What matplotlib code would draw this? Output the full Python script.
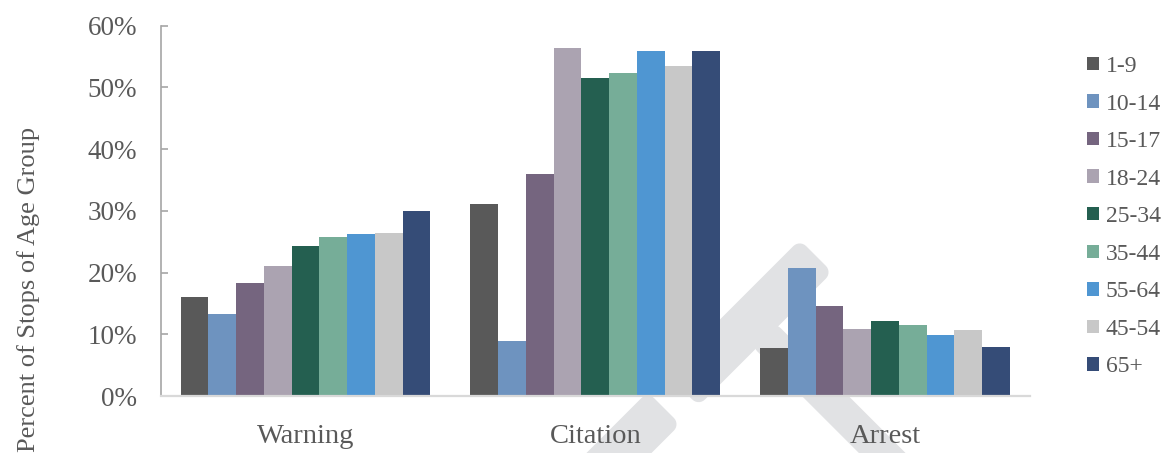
import numpy as np
import matplotlib
matplotlib.use("Agg")
import matplotlib.pyplot as plt
from matplotlib.patches import Polygon
from matplotlib.ticker import PercentFormatter

# --- Datos (porcentaje de paradas por grupo de edad) ---
categorias = ['Warning', 'Citation', 'Arrest']
grupos_edad = ['1-9', '10-14', '15-17', '18-24', '25-34', '35-44', '55-64', '45-54', '65+']
warning = [16.0, 13.3, 18.3, 21.1, 24.3, 25.8, 26.3, 26.4, 30.0]
citation = [31.1, 8.9, 36.0, 56.4, 51.5, 52.3, 55.9, 53.5, 55.9]
arrest = [7.8, 20.7, 14.6, 10.9, 12.2, 11.5, 9.9, 10.7, 7.9]
colores = ['#595959', '#6e93bf', '#75657f', '#aba3b1', '#245f50',
           '#76ad98', '#4f96d2', '#c8c8c8', '#354c77']

plt.rcParams['font.family'] = ['Liberation Serif', 'DejaVu Serif']
color_texto = '#595959'

ancho_px, alto_px = 1163, 453
fig = plt.figure(figsize=(ancho_px / 100, alto_px / 100), dpi=100)
ax = fig.add_axes([160.7 / ancho_px, 1 - 396 / alto_px,
                   (1030 - 160.7) / ancho_px, (396 - 25.7) / alto_px])
ax.patch.set_alpha(0)


def rectangulo_girado(u0, v0, du, dv, r=9, n=8):
    """Rectángulo redondeado en ejes girados 45 grados -> fracción de figura."""
    esquinas = [(u0 + du - r, v0 + dv - r, 0), (u0 + r, v0 + dv - r, 90),
                (u0 + r, v0 + r, 180), (u0 + du - r, v0 + r, 270)]
    pts = []
    for cu, cv, a0 in esquinas:
        for a in np.linspace(a0, a0 + 90, n):
            pts.append((cu + r * np.cos(np.radians(a)), cv + r * np.sin(np.radians(a))))
    pts = np.array(pts)
    s = np.sqrt(2)
    x = (pts[:, 0] + pts[:, 1]) / s
    y_img = (pts[:, 1] - pts[:, 0]) / s
    return np.column_stack([x / ancho_px, 1 - y_img / alto_px])


# --- Marca de agua (mazo gris) ---
piezas = [(207, 735, 189, 46),    # cabeza
          (-200, 735, 381, 46),   # base
          (287, 775, 33, 500)]    # mango
for pieza in piezas:
    p = Polygon(rectangulo_girado(*pieza), closed=True, transform=fig.transFigure,
                facecolor='#e1e2e4', edgecolor='none', zorder=-5)
    fig.add_artist(p)

# --- Barras agrupadas ---
datos = np.array([warning, citation, arrest])
x = np.arange(len(categorias))
ancho = 0.862 / len(grupos_edad)
for i, grupo in enumerate(grupos_edad):
    ax.bar(x + (i - 4) * ancho, datos[:, i], width=ancho, color=colores[i],
           label=grupo, zorder=3)

ax.set_xlim(-0.5, 2.5)
ax.set_ylim(0, 60)
ax.set_yticks(np.arange(0, 61, 10))
ax.yaxis.set_major_formatter(PercentFormatter(100, decimals=0))
ax.set_xticks(x)
ax.set_xticklabels(categorias)

for lado in ['top', 'right']:
    ax.spines[lado].set_visible(False)
ax.spines['left'].set_color('#a6a6a6')
ax.spines['left'].set_linewidth(1.2)
ax.spines['bottom'].set_color('#d9d9d9')
ax.spines['bottom'].set_linewidth(1.6)
ax.spines['bottom'].set_zorder(4)

ax.tick_params(axis='y', direction='in', length=5, width=1.2, color='#a6a6a6',
               labelsize=19.5, labelcolor=color_texto, pad=17)
ax.tick_params(axis='x', length=0, labelsize=20.5, labelcolor=color_texto, pad=20)

fig.text(29 / ancho_px, 1 - 127 / alto_px, 'Percent of Stops of Age Group',
         rotation=90, ha='center', va='top', fontsize=19, color=color_texto)

leg = ax.legend(loc='upper left', bbox_to_anchor=(1087 / ancho_px, 1 - 56 / alto_px),
                bbox_transform=fig.transFigure, frameon=False, fontsize=17,
                handlelength=0.5, handleheight=0.5, handletextpad=0.3,
                labelspacing=0.70, borderpad=0, borderaxespad=0)
for t in leg.get_texts():
    t.set_color(color_texto)

fig.savefig('out.png', dpi=100)
